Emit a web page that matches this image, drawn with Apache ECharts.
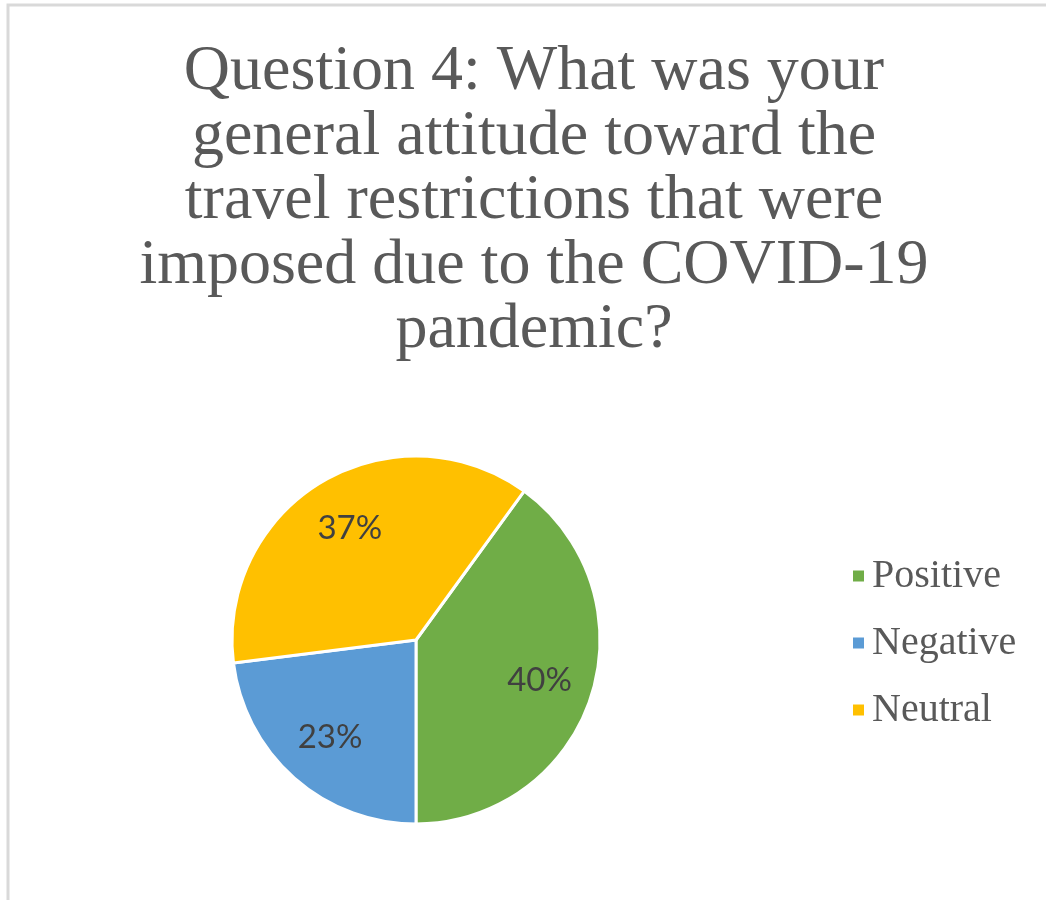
<!DOCTYPE html>
<html>
<head>
<meta charset="utf-8">
<title>Question 4</title>
<script src="https://cdn.jsdelivr.net/npm/echarts@6/dist/echarts.min.js"></script>
<style>
  html, body { margin: 0; padding: 0; background: #ffffff; }
  #chart { width: 1046px; height: 900px; }
</style>
</head>
<body>
<div id="chart"></div>
<script>
// Survey answers and their shares (percent)
var categories = ['Positive', 'Negative', 'Neutral'];
var shares = [40, 23, 37];
var sliceColors = ['#70AD47', '#5B9BD5', '#FFC000'];
var chartTitle = 'Question 4: What was your\ngeneral attitude toward the\ntravel restrictions that were\nimposed due to the COVID-19\npandemic?';

var pieData = categories.map(function (name, i) {
  return { name: name, value: shares[i], itemStyle: { color: sliceColors[i] } };
});

var chart = echarts.init(document.getElementById('chart'), null, { renderer: 'canvas' });

var pieCenter = [416, 640];
var pieRadius = 184;

chart.setOption({
  backgroundColor: '#ffffff',
  animation: false,
  graphic: [{
    // chart frame
    type: 'rect',
    shape: { x: 8, y: 5, width: 1200, height: 1100 },
    style: { fill: 'none', stroke: '#d9d9d9', lineWidth: 3 },
    silent: true
  }, {
    // centred multi-line heading
    type: 'text',
    x: 534,
    y: 40,
    silent: true,
    style: {
      text: chartTitle,
      fill: '#595959',
      font: '64px "Liberation Serif"',
      lineHeight: 64.5,
      align: 'center',
      verticalAlign: 'top'
    }
  }],
  legend: {
    orient: 'vertical',
    left: 846,
    top: 551,
    itemWidth: 13,
    itemHeight: 13,
    itemGap: 27,
    icon: 'rect',
    data: categories,
    textStyle: {
      fontFamily: 'Liberation Serif',
      fontSize: 40,
      lineHeight: 40,
      color: '#595959',
      padding: [0, 0, 0, 2]
    }
  },
  series: [{
    type: 'pie',
    center: pieCenter,
    radius: [0, pieRadius],
    startAngle: 54,
    clockwise: true,
    data: pieData,
    label: { show: false },
    labelLine: { show: false },
    itemStyle: { borderColor: '#ffffff', borderWidth: 3 },
    emphasis: { disabled: true }
  }, {
    // label ring: places the percentages at ~0.7 of the radius
    type: 'pie',
    center: pieCenter,
    radius: [pieRadius * 0.38, pieRadius],
    startAngle: 54,
    clockwise: true,
    silent: true,
    data: pieData.map(function (d) { return { name: d.name, value: d.value }; }),
    itemStyle: { color: 'rgba(0,0,0,0)', borderWidth: 0 },
    labelLine: { show: false },
    label: {
      show: true,
      position: 'inside',
      formatter: function (p) { return p.value + '%'; },
      fontFamily: 'Lato, "Open Sans", sans-serif',
      fontSize: 33,
      color: '#404040'
    },
    emphasis: { disabled: true },
    legendHoverLink: false
  }]
});
</script>
</body>
</html>
